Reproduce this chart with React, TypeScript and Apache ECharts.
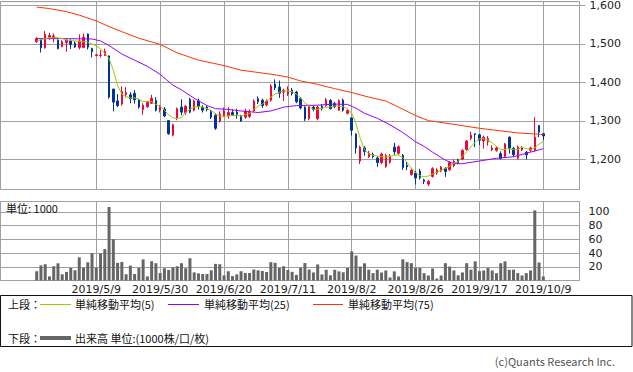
import React, { useEffect, useRef } from 'react';
import * as echarts from 'echarts';

const dates = [
  '2019/4/11','2019/4/12','2019/4/15','2019/4/16','2019/4/17','2019/4/18','2019/4/19','2019/4/22','2019/4/23','2019/4/24','2019/4/25','2019/4/26',
  '2019/5/7','2019/5/8','2019/5/9','2019/5/10','2019/5/13','2019/5/14','2019/5/15','2019/5/16','2019/5/17','2019/5/20','2019/5/21','2019/5/22','2019/5/23','2019/5/24','2019/5/27','2019/5/28','2019/5/29','2019/5/30','2019/5/31',
  '2019/6/3','2019/6/4','2019/6/5','2019/6/6','2019/6/7','2019/6/10','2019/6/11','2019/6/12','2019/6/13','2019/6/14','2019/6/17','2019/6/18','2019/6/19','2019/6/20','2019/6/21','2019/6/24','2019/6/25','2019/6/26','2019/6/27','2019/6/28',
  '2019/7/1','2019/7/2','2019/7/3','2019/7/4','2019/7/5','2019/7/8','2019/7/9','2019/7/10','2019/7/11','2019/7/12','2019/7/16','2019/7/17','2019/7/18','2019/7/19','2019/7/22','2019/7/23','2019/7/24','2019/7/25','2019/7/26','2019/7/29','2019/7/30','2019/7/31',
  '2019/8/1','2019/8/2','2019/8/5','2019/8/6','2019/8/7','2019/8/8','2019/8/9','2019/8/13','2019/8/14','2019/8/15','2019/8/16','2019/8/19','2019/8/20','2019/8/21','2019/8/22','2019/8/23','2019/8/26','2019/8/27','2019/8/28','2019/8/29','2019/8/30',
  '2019/9/2','2019/9/3','2019/9/4','2019/9/5','2019/9/6','2019/9/9','2019/9/10','2019/9/11','2019/9/12','2019/9/13','2019/9/17','2019/9/18','2019/9/19','2019/9/20','2019/9/24','2019/9/25','2019/9/26','2019/9/27','2019/9/30',
  '2019/10/1','2019/10/2','2019/10/3','2019/10/4','2019/10/7','2019/10/8','2019/10/9'
];

const tickDates = ['2019/5/9', '2019/5/30', '2019/6/20', '2019/7/11', '2019/8/2', '2019/8/26', '2019/9/17', '2019/10/9'];

const opens = [
  1506,1510,1490,1518,1516,1510,1493,1504,1508,1502,1491,1491,1526,1488,1470,1470,1470,1469,1383,1352,
  1344,1369,1368,1372,1355,1330,1337,1346,1353,1328,1331,1301,1263,1308,1336,1322,1356,1328,1352,1336,
  1336,1324,1315,1300,1312,1314,1322,1323,1313,1310,1312,1326,1358,1354,1342,1354,1396,1388,1375,1370,
  1380,1375,1358,1336,1306,1336,1306,1338,1340,1353,1345,1328,1354,1320,1308,1266,1196,1230,1207,1213,
  1204,1192,1182,1193,1232,1216,1211,1185,1161,1165,1170,1147,1136,1156,1165,1170,1177,1173,1184,1199,
  1201,1226,1255,1267,1264,1248,1246,1225,1224,1215,1208,1258,1229,1203,1225,1219,1224,1224,1288,1267
];
const closes = [
  1514,1490,1525,1522,1521,1488,1506,1510,1499,1492,1508,1518,1492,1480,1472,1471,1481,1362,1349,1340,
  1376,1374,1358,1355,1336,1341,1348,1359,1328,1338,1313,1267,1290,1332,1323,1338,1323,1352,1338,1328,
  1330,1310,1281,1318,1325,1322,1316,1317,1300,1326,1325,1352,1350,1340,1352,1391,1386,1372,1380,1382,
  1371,1350,1334,1305,1338,1330,1336,1332,1355,1332,1337,1353,1328,1327,1276,1230,1232,1221,1216,1207,
  1192,1214,1210,1209,1220,1233,1179,1181,1172,1152,1152,1143,1143,1176,1173,1180,1169,1192,1195,1192,
  1224,1248,1263,1265,1250,1258,1254,1230,1230,1203,1240,1229,1212,1232,1231,1212,1230,1258,1271,1261
];
const lows = [
  1503,1478,1488,1511,1504,1486,1492,1480,1487,1490,1486,1489,1486,1465,1468,1465,1469,1358,1325,1336,
  1340,1361,1346,1345,1332,1316,1334,1344,1325,1322,1310,1264,1260,1302,1315,1316,1320,1325,1330,1322,
  1325,1305,1277,1296,1310,1306,1313,1306,1298,1306,1308,1324,1344,1334,1338,1350,1380,1360,1352,1365,
  1366,1346,1330,1300,1302,1325,1302,1327,1337,1330,1333,1326,1324,1317,1262,1215,1188,1210,1204,1203,
  1181,1188,1178,1189,1211,1212,1173,1172,1158,1135,1148,1136,1131,1153,1160,1167,1155,1171,1180,1188,
  1198,1223,1250,1232,1238,1228,1236,1222,1220,1200,1205,1215,1207,1200,1222,1200,1220,1220,1258,1250
];
const highs = [
  1518,1512,1534,1529,1527,1512,1510,1512,1512,1507,1525,1527,1527,1490,1474,1484,1488,1470,1383,1370,
  1390,1388,1375,1380,1358,1346,1352,1368,1362,1342,1336,1302,1293,1335,1356,1342,1360,1356,1358,1341,
  1340,1328,1320,1325,1335,1336,1330,1332,1316,1332,1330,1356,1364,1358,1356,1396,1408,1405,1384,1390,
  1386,1378,1362,1338,1342,1340,1340,1344,1360,1357,1350,1356,1358,1330,1310,1268,1236,1235,1222,1218,
  1208,1218,1215,1214,1243,1237,1214,1193,1175,1170,1176,1150,1147,1180,1177,1183,1180,1195,1200,1202,
  1226,1250,1272,1268,1266,1262,1261,1237,1234,1221,1243,1260,1233,1236,1235,1222,1233,1310,1290,1268
];

const volumes = [
  13.5,22,23.7,6,20.7,25,9,12.5,18.3,14.8,33.7,18.7,26.5,39.7,18.7,39.2,45.7,107,60,25.7,
  27,9,21.7,9.5,18.3,30.7,6,28,25.2,10.8,17.8,15.3,19.2,20.7,25.2,17.8,32.3,11.8,10.4,9.4,
  9.4,14.8,24.2,23.7,7.4,13.5,6.4,8.9,13.5,10.8,10.8,16,14.8,13.8,12.4,26.7,25.7,18.3,20.7,15.3,
  12.6,8.2,18.5,25.4,16,11.7,23.4,8.8,15.6,7.5,15.6,13.3,12,18.3,42.3,36.3,20.3,25,15.8,10.7,
  15.8,11.6,14.6,4.4,13.3,5.9,30.8,26.7,25.2,18.3,18.3,10.7,7.3,17.5,2.9,7.3,25.2,20.3,14.6,7.5,
  11.7,25.2,15.8,27.9,13.6,14.6,18.3,14.6,10.7,25.2,27.9,15.5,15.8,10.7,7.3,10.7,14.6,102,26.2,5.9
];

const ma5 = [
  1508,1511,1514,1516,1517,1516,1514,1511,1509,1508,1507,1506,1505,1500,1495,1487,1476,1462,1432,1392,
  1370,1363,1360,1360,1356,1350,1351,1350,1343,1338,1328,1316,1308,1306,1309,1322,1330,1336,1337,1336,
  1332,1328,1318,1313,1312,1313,1314,1314,1313,1316,1320,1330,1338,1344,1352,1362,1370,1375,1378,1378,
  1376,1370,1360,1347,1338,1330,1330,1333,1335,1337,1339,1339,1337,1332,1320,1293,1255,1225,1215,1211,
  1209,1207,1206,1208,1212,1211,1205,1192,1178,1166,1158,1155,1157,1162,1167,1172,1177,1182,1190,1195,
  1208,1220,1233,1245,1254,1254,1250,1243,1234,1226,1226,1228,1226,1226,1232,1228,1226,1230,1240,1247
];

const ma25Idx = [0,6,13,15,17,20,23,26,29,32,34,37,40,42,45,48,52,55,58,61,66,70,73,75,77,80,83,86,89,91,93,96,98,100,104,108,112,116,119];
const ma25Val = [1514,1514,1513,1508,1496,1474,1458,1442,1421,1393,1381,1359,1340,1332,1330,1326,1322,1326,1336,1340,1341,1344,1343,1333,1320,1307,1290,1270,1246,1234,1219,1198,1189,1189,1196,1203,1207,1219,1228];

const ma75Idx = [0,3,7,10,14,17,20,24,29,33,38,44,48,52,56,59,62,66,70,74,78,82,85,89,92,97,104,113,119];
const ma75Val = [1596,1592,1584,1575,1560,1545,1532,1515,1499,1477,1458,1444,1432,1426,1420,1414,1404,1395,1384,1374,1362,1352,1336,1314,1301,1293,1281,1269,1265];

const PAD = 8;
const UP = '#f0063c';
const DOWN = '#003399';
const GRID = '#a0a0a0';
const FONT = 'DejaVu Sans';
const JFONT = '"Noto Sans CJK JP"';

export default function App() {
  const ref = useRef<HTMLDivElement>(null);
  useEffect(() => {
    if (!ref.current) return;
    const chart = echarts.init(ref.current, undefined, { renderer: 'svg' });
    const pre = Array.from({ length: PAD }, (_, i) => `pre${i}`);
    const post = Array.from({ length: PAD }, (_, i) => `post${i}`);
    const cats = [...pre, ...dates, ...post];
    const blank = Array(PAD).fill('-');
    const candleData = [...blank, ...dates.map((_, i) => [opens[i], closes[i], lows[i], highs[i]]), ...blank];
    const volData = [...blank, ...volumes, ...blank];
    const ma5Data = [...blank, ...ma5, ...blank];
    const ma25Data = ma25Idx.map((d, k) => [dates[d], ma25Val[k]]);
    const ma75Data = ma75Idx.map((d, k) => [dates[d], ma75Val[k]]);
    const isTick = (_i: number, v: string) => tickDates.includes(v);

    const xBase = (gi: number, showLabel: boolean) => ({
      type: 'category',
      gridIndex: gi,
      data: cats,
      boundaryGap: true,
      axisLine: { show: false },
      axisTick: { show: false },
      axisLabel: {
        show: showLabel,
        interval: isTick,
        fontFamily: FONT,
        fontSize: 11,
        color: '#222',
        margin: 3,
      },
      splitLine: { show: true, interval: isTick, alignWithLabel: true, lineStyle: { color: GRID, width: 1 } },
    });

    const yr = (x: number) => x;
    chart.setOption({
      animation: false,
      textStyle: { fontFamily: FONT },
      grid: [
        { left: 0.5, top: 0.5, width: 579, height: 189, show: true, borderColor: GRID, borderWidth: 1, backgroundColor: '#fff' },
        { left: 0.5, top: 201.5, width: 579, height: 79, show: true, borderColor: GRID, borderWidth: 1, backgroundColor: '#fff' },
      ],
      xAxis: [xBase(0, false), xBase(1, true)],
      yAxis: [
        {
          type: 'value', gridIndex: 0, position: 'right', min: 1122, max: 1610,
          splitNumber: 5, minInterval: 100, maxInterval: 100,
          axisLine: { show: false },
          axisTick: { show: true, length: 6, lineStyle: { color: GRID } },
          axisLabel: {
            margin: 10, fontSize: 11, fontFamily: FONT, color: '#222',
            showMinLabel: false, showMaxLabel: false,
            formatter: (v: number) => yr(v).toLocaleString('en-US'),
          },
          splitLine: { show: true, lineStyle: { color: GRID, width: 1 } },
        },
        {
          type: 'value', gridIndex: 1, position: 'right', min: 0, max: 115,
          splitNumber: 5, minInterval: 20, maxInterval: 20,
          axisLine: { show: false },
          axisTick: { show: false },
          axisLabel: {
            margin: 9, fontSize: 11, fontFamily: FONT, color: '#222',
            showMinLabel: false, showMaxLabel: false,
          },
          splitLine: { show: true, lineStyle: { color: GRID, width: 1 } },
        },
      ],
      series: [
        {
          type: 'candlestick', xAxisIndex: 0, yAxisIndex: 0, data: candleData, barWidth: 2,
          itemStyle: { color: UP, color0: DOWN, borderColor: UP, borderColor0: DOWN, borderWidth: 1 },
        },
        {
          type: 'line', xAxisIndex: 0, yAxisIndex: 0, data: ma75Data, symbol: 'none', z: 3,
          lineStyle: { color: '#ff3300', width: 1 },
        },
        {
          type: 'line', xAxisIndex: 0, yAxisIndex: 0, data: ma25Data, symbol: 'none', z: 3,
          lineStyle: { color: '#9900ff', width: 1 },
        },
        {
          type: 'line', xAxisIndex: 0, yAxisIndex: 0, data: ma5Data, symbol: 'none', z: 3,
          lineStyle: { color: '#99cc00', width: 1 },
        },
        {
          type: 'bar', xAxisIndex: 1, yAxisIndex: 1, data: volData, barWidth: 3,
          itemStyle: { color: '#666666' },
        },
      ],
      graphic: [
        { type: 'text', x: 6, y: 208, z: 10, style: { text: '単位: 1000', fontSize: 11, fontFamily: JFONT, fill: '#111', verticalAlign: 'middle' } },
        { type: 'rect', shape: { x: 0.5, y: 295.5, width: 631.5, height: 51 }, style: { fill: 'none', stroke: '#111', lineWidth: 1 } },
        { type: 'text', x: 8, y: 304, style: { text: '上段：', fontSize: 11, fontFamily: JFONT, fill: '#111', verticalAlign: 'middle' } },
        { type: 'line', shape: { x1: 40, y1: 304.5, x2: 71, y2: 304.5 }, style: { stroke: '#99cc00', lineWidth: 1 } },
        { type: 'text', x: 75, y: 304, style: { text: '単純移動平均(5)', fontSize: 11, fontFamily: JFONT, fill: '#111', verticalAlign: 'middle' } },
        { type: 'line', shape: { x1: 168, y1: 304.5, x2: 199, y2: 304.5 }, style: { stroke: '#9900ff', lineWidth: 1 } },
        { type: 'text', x: 204, y: 304, style: { text: '単純移動平均(25)', fontSize: 11, fontFamily: JFONT, fill: '#111', verticalAlign: 'middle' } },
        { type: 'line', shape: { x1: 313, y1: 304.5, x2: 343, y2: 304.5 }, style: { stroke: '#ff3300', lineWidth: 1 } },
        { type: 'text', x: 348, y: 304, style: { text: '単純移動平均(75)', fontSize: 11, fontFamily: JFONT, fill: '#111', verticalAlign: 'middle' } },
        { type: 'text', x: 8, y: 338, style: { text: '下段：', fontSize: 11, fontFamily: JFONT, fill: '#111', verticalAlign: 'middle' } },
        { type: 'line', shape: { x1: 40, y1: 338, x2: 71, y2: 338 }, style: { stroke: '#666666', lineWidth: 4 } },
        { type: 'text', x: 75, y: 338, style: { text: '出来高 単位:(1000株/口/枚)', fontSize: 11, fontFamily: JFONT, fill: '#111', verticalAlign: 'middle' } },
        { type: 'text', x: 615, y: 361, style: { text: '(c)Quants Research Inc.', fontSize: 11, fontFamily: JFONT, fill: '#555', align: 'right', verticalAlign: 'middle' } },
      ],
    });
    return () => chart.dispose();
  }, []);
  return (
    <div
      ref={ref}
      style={{ position: 'fixed', left: 0, top: 0, width: 633, height: 372, background: '#fff' }}
    />
  );
}
